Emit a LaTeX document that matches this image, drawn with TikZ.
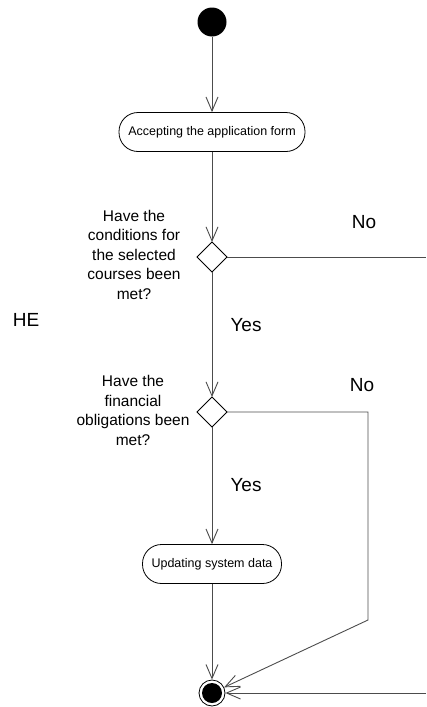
\documentclass[tikz,border=0pt]{standalone}
\usepackage{fontspec}
\setmainfont{Liberation Sans}
\usetikzlibrary{arrows.meta}
\begin{document}
\begin{tikzpicture}[x=1pt,y=-1pt,
  flow/.style={draw=black!70, line width=0.9pt,
    -{Straight Barb[length=14pt,width=12pt,line width=0.9pt]}},
  plain/.style={draw=black!70, line width=0.9pt},
  activity/.style={draw=black, line width=0.8pt, rounded corners=19pt,
    minimum height=39pt, inner sep=0pt,
    font=\fontsize{12.5}{15}\selectfont},
  decision/.style={draw=black, line width=0.8pt, minimum width=31pt,
    minimum height=31pt, inner sep=0pt},
  question/.style={align=center, inner sep=0pt,
    font=\fontsize{15.5}{19.5}\selectfont},
  guard/.style={inner sep=0pt, font=\fontsize{19}{22}\selectfont}]
  \useasboundingbox (0,0) rectangle (426,707);

  % start and end states
  \node[circle, fill=black, minimum size=29pt, inner sep=0pt] (start) at (212,22) {};
  \node[circle, draw=black, line width=0.8pt, minimum size=26pt, inner sep=0pt] (stop) at (212,693) {};
  \fill[black] (stop.center) circle (10pt);

  % activities
  \node[activity, minimum width=186pt] (accept) at (212,132) {Accepting the application form};
  \node[activity, minimum width=139pt] (update) at (212,564) {Updating system data};

  % decisions (drawn as diamonds)
  \coordinate (d1) at (212,257);
  \coordinate (d2) at (212,412);
  \draw[line width=0.8pt] (212,242) -- (227,257) -- (212,272) -- (197,257) -- cycle;
  \draw[line width=0.8pt] (212,397) -- (227,412) -- (212,427) -- (197,412) -- cycle;
  \coordinate (d1t) at (212,242);
  \coordinate (d1r) at (227,257);
  \coordinate (d1b) at (212,272);
  \coordinate (d2t) at (212,397);
  \coordinate (d2r) at (227,412);
  \coordinate (d2b) at (212,427);

  % free ends at the right border and the bend of the second "No" branch
  \coordinate (exit1) at (426,257);
  \coordinate (entry2) at (426,693);
  \coordinate (bendA) at (368,412);
  \coordinate (bendB) at (368,620);

  % connectors
  \draw[flow] (start) -- (accept);
  \draw[flow] (accept) -- (d1t);
  \draw[plain] (d1r) -- (exit1);
  \draw[flow] (d1b) -- (d2t);
  \draw[flow] (d2b) -- (update);
  \draw[flow] (update) -- (stop);
  \draw[flow] (d2r) -- (bendA) -- (bendB) -- (stop);
  \draw[flow] (entry2) -- (stop);

  % labels
  \node[question] (q1) at (134,254.5) {Have the\\conditions for\\the selected\\courses been\\met?};
  \node[question] (q2) at (133,410.5) {Have the\\financial\\obligations been\\met?};
  \node[guard] (no1) at (364,222) {No};
  \node[guard] (no2) at (362,385) {No};
  \node[guard] (yes1) at (246,325) {Yes};
  \node[guard] (yes2) at (246,485) {Yes};
  \node[guard] (he) at (26,320) {HE};
\end{tikzpicture}
\end{document}
